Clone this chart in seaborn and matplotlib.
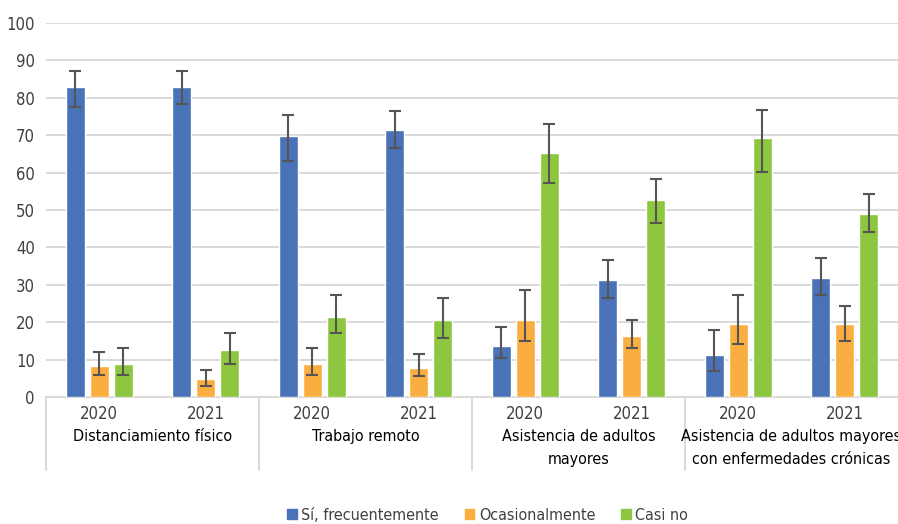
import matplotlib
matplotlib.use("Agg")
import matplotlib.pyplot as plt
import seaborn as sns
import pandas as pd

# Data
categories = ["Distanciamiento físico", "Trabajo remoto",
              "Asistencia de adultos\nmayores",
              "Asistencia de adultos mayores\ncon enfermedades crónicas"]
years = ["2020", "2021"]
series = ["Sí, frecuentemente", "Ocasionalmente", "Casi no"]

si_vals = [83, 83, 69.7, 71.3, 13.6, 31.2, 11.1, 31.7]
si_lo = [77.5, 78.3, 63.0, 66.6, 10.3, 26.5, 6.9, 27.3]
si_hi = [87.1, 87.1, 75.5, 76.4, 18.7, 36.7, 17.8, 37.2]

oc_vals = [8.2, 4.7, 8.7, 7.8, 20.5, 16.2, 19.6, 19.4]
oc_lo = [5.8, 2.9, 5.8, 5.5, 14.9, 13.2, 14.1, 15.0]
oc_hi = [12.0, 7.1, 13.2, 11.4, 28.5, 20.5, 27.3, 24.3]

cn_vals = [8.7, 12.5, 21.4, 20.5, 65.3, 52.6, 69.3, 48.8]
cn_lo = [5.8, 8.9, 17.1, 15.8, 57.2, 46.5, 60.2, 44.0]
cn_hi = [13.2, 17.1, 27.3, 26.5, 72.9, 58.4, 76.8, 54.2]

colors = ["#4A72B8", "#FBAE40", "#8DC63F"]

# Build long-form table
groups = [f"{c} {y}" for c in categories for y in years]
rows = []
for name, vals in zip(series, [si_vals, oc_vals, cn_vals]):
    for g, v in zip(groups, vals):
        rows.append({"grupo": g, "serie": name, "valor": v})
df = pd.DataFrame(rows)
lows = [si_lo, oc_lo, cn_lo]
highs = [si_hi, oc_hi, cn_hi]

sns.set_style("white")
# Condensed face, closer to the original's narrow font
plt.rcParams["font.family"] = ["DejaVu Sans"]
plt.rcParams["font.stretch"] = "condensed"

fig = plt.figure(figsize=(8.98, 5.24), dpi=100)
ax = fig.add_axes([46 / 898, 127 / 524, 852 / 898, 374 / 524])

sns.barplot(data=df, x="grupo", y="valor", hue="serie", order=groups,
            hue_order=series, palette=colors, width=0.675, gap=0.2,
            saturation=1, errorbar=None, ax=ax, zorder=3)

# Error bars at the bar centres
for cont, vals, lo, hi in zip(ax.containers, [si_vals, oc_vals, cn_vals], lows, highs):
    xs = [b.get_x() + b.get_width() / 2 for b in cont]
    err = [[v - l for v, l in zip(vals, lo)], [h - v for v, h in zip(vals, hi)]]
    ax.errorbar(xs, vals, yerr=err, fmt="none", ecolor="#555555",
                elinewidth=1.5, capsize=4, capthick=1.5, zorder=4)

ax.set_xlim(-0.5, 7.5)
ax.set_ylim(0, 100)
ax.set_yticks(range(0, 101, 10))
ax.yaxis.grid(True, color="#D9D9D9", linewidth=1.4, zorder=0)
ax.set_axisbelow(True)
for s in ["top", "right", "left"]:
    ax.spines[s].set_visible(False)
ax.spines["bottom"].set_color("#D9D9D9")
ax.spines["bottom"].set_linewidth(1.4)
ax.tick_params(axis="y", length=0, labelsize=12, colors="#404040", pad=8)
ax.tick_params(axis="x", length=0, labelsize=12, colors="#404040", pad=6)
ax.set_xticks(range(8))
ax.set_xticklabels(years * 4)
ax.set_xlabel("")
ax.set_ylabel("")

# Category labels and separators
trans = ax.get_xaxis_transform()
for i, c in enumerate(categories):
    ax.text(2 * i + 0.5, -0.085, c, transform=trans, ha="center", va="top",
            fontsize=11.5, color="#000000", linespacing=1.65, clip_on=False)
for x in [-0.5, 1.5, 3.5, 5.5]:
    ax.plot([x, x], [0, -0.195], transform=trans, color="#D9D9D9",
            linewidth=1.4, clip_on=False)

ax.get_legend().remove()
handles = [plt.Rectangle((0, 0), 1, 1, color=c) for c in colors]
fig.legend(handles, series, loc="center", bbox_to_anchor=(0.543, 0.017),
           ncol=3, frameon=False, fontsize=11.5, handlelength=0.6,
           handleheight=0.6, handletextpad=0.3, columnspacing=1.6,
           labelcolor="#404040")

fig.savefig("out.png", dpi=100)
